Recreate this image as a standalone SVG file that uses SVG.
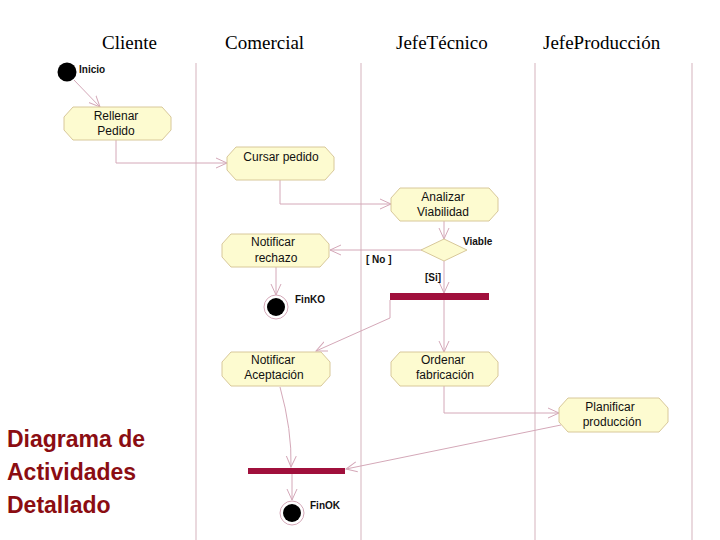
<svg xmlns="http://www.w3.org/2000/svg" width="720" height="540" viewBox="0 0 720 540">
<defs>
<style>
.hdr{font-family:"Liberation Serif","Times New Roman",serif;font-size:19px;fill:#000}
.lane{stroke:#dcc0c8;stroke-width:1.2;fill:none}
.act{fill:#fdfbd0;stroke:#d8c89a;stroke-width:1;stroke-linejoin:round}
.t{font-family:"Liberation Sans",Arial,sans-serif;font-size:12px;fill:#111;text-anchor:middle}
.lbl{font-family:"Liberation Sans",Arial,sans-serif;font-size:10px;fill:#111;font-weight:bold}
.c{stroke:#d4a8b8;stroke-width:1;fill:none}
.bar{fill:#a0103c}
.title{font-family:"Liberation Sans",Arial,sans-serif;font-size:23px;font-weight:bold;fill:#8b0d12}
</style>
<marker id="ah" viewBox="0 0 12 12" refX="11" refY="6" markerWidth="12" markerHeight="12" markerUnits="userSpaceOnUse" orient="auto">
<path d="M0,1 L11,6 L0,11" fill="none" stroke="#d4a8b8" stroke-width="1"/>
</marker>
</defs>
<rect width="720" height="540" fill="#fff"/>
<g id="headers">
<text class="hdr" x="102" y="49">Cliente</text>
<text class="hdr" x="225" y="49">Comercial</text>
<text class="hdr" x="396" y="49">JefeTécnico</text>
<text class="hdr" x="543" y="49">JefeProducción</text>
</g>
<g id="lanes">
<line class="lane" x1="196" y1="63" x2="196" y2="540"/>
<line class="lane" x1="361" y1="63" x2="361" y2="540"/>
<line class="lane" x1="535" y1="63" x2="535" y2="540"/>
<line class="lane" x1="692" y1="63" x2="692" y2="540"/>
</g>
<g id="connectors">
<path class="c" d="M74,80 L100,107" marker-end="url(#ah)"/>
<path class="c" d="M116,140 V163 H227" marker-end="url(#ah)"/>
<path class="c" d="M280,180 V204 H391" marker-end="url(#ah)"/>
<path class="c" d="M444,221 V239" marker-end="url(#ah)"/>
<path class="c" d="M422,250 H330" marker-end="url(#ah)"/>
<path class="c" d="M276,267 V295" marker-end="url(#ah)"/>
<path class="c" d="M444,261 V293" marker-end="url(#ah)"/>
<path class="c" d="M390,300 V318 L316,351" marker-end="url(#ah)"/>
<path class="c" d="M444,300 V352" marker-end="url(#ah)"/>
<path class="c" d="M444,386 V413 H559" marker-end="url(#ah)"/>
<path class="c" d="M561,425 L346,469" marker-end="url(#ah)"/>
<path class="c" d="M280,387 Q292,430 291,467" marker-end="url(#ah)"/>
<path class="c" d="M292,474 V500" marker-end="url(#ah)"/>
</g>
<g id="inicio">
<circle cx="67" cy="72" r="9.5" fill="#000"/>
<text class="lbl" x="79" y="73">Inicio</text>
</g>
<g id="rellenar">
<path class="act" d="M73,107 H162 L171,117 V130 L162,140 H73 L64,130 V117 Z"/>
<text class="t" x="116" y="120">Rellenar</text>
<text class="t" x="116" y="135">Pedido</text>
</g>
<g id="cursar">
<path class="act" d="M236,147 H325 L334,157 V170 L325,180 H236 L227,170 V157 Z"/>
<text class="t" x="281" y="161">Cursar pedido</text>
</g>
<g id="analizar">
<path class="act" d="M400,188 H489 L498,198 V211 L489,221 H400 L391,211 V198 Z"/>
<text class="t" x="443" y="201">Analizar</text>
<text class="t" x="443" y="216">Viabilidad</text>
</g>
<g id="decision">
<path d="M444,239 L467,250 L444,261 L421,250 Z" fill="#fdfbd0" stroke="#d8c89a"/>
<text class="lbl" x="463" y="245">Viable</text>
<text class="lbl" x="366" y="263">[ No ]</text>
<text class="lbl" x="425" y="281">[Si]</text>
</g>
<g id="rechazo">
<path class="act" d="M231,234 H320 L329,244 V257 L320,267 H231 L222,257 V244 Z"/>
<text class="t" x="273" y="246">Notificar</text>
<text class="t" x="276" y="262">rechazo</text>
</g>
<g id="finko">
<circle cx="276" cy="307" r="12" fill="#fff" stroke="#d4a8b8"/>
<circle cx="276" cy="307" r="9" fill="#000"/>
<text class="lbl" x="295" y="303">FinKO</text>
</g>
<g id="fork">
<rect class="bar" x="390" y="293" width="99" height="7"/>
</g>
<g id="aceptacion">
<path class="act" d="M231,352 H321 L330,362 V376 L321,386 H231 L222,376 V362 Z"/>
<text class="t" x="273" y="364">Notificar</text>
<text class="t" x="274" y="379">Aceptación</text>
</g>
<g id="ordenar">
<path class="act" d="M400,352 H489 L498,362 V376 L489,386 H400 L391,376 V362 Z"/>
<text class="t" x="443" y="364">Ordenar</text>
<text class="t" x="445" y="379">fabricación</text>
</g>
<g id="planificar">
<path class="act" d="M568,398 H659 L668,408 V422 L659,432 H568 L559,422 V408 Z"/>
<text class="t" x="610" y="411">Planificar</text>
<text class="t" x="612" y="426">producción</text>
</g>
<g id="join">
<rect class="bar" x="248" y="468" width="97" height="6"/>
</g>
<g id="finok">
<circle cx="292" cy="513" r="12" fill="#fff" stroke="#d4a8b8"/>
<circle cx="292" cy="513" r="9" fill="#000"/>
<text class="lbl" x="310" y="509">FinOK</text>
</g>
<g id="title">
<text class="title" x="7" y="447">Diagrama de</text>
<text class="title" x="7" y="480">Actividades</text>
<text class="title" x="7" y="513">Detallado</text>
</g>
</svg>
